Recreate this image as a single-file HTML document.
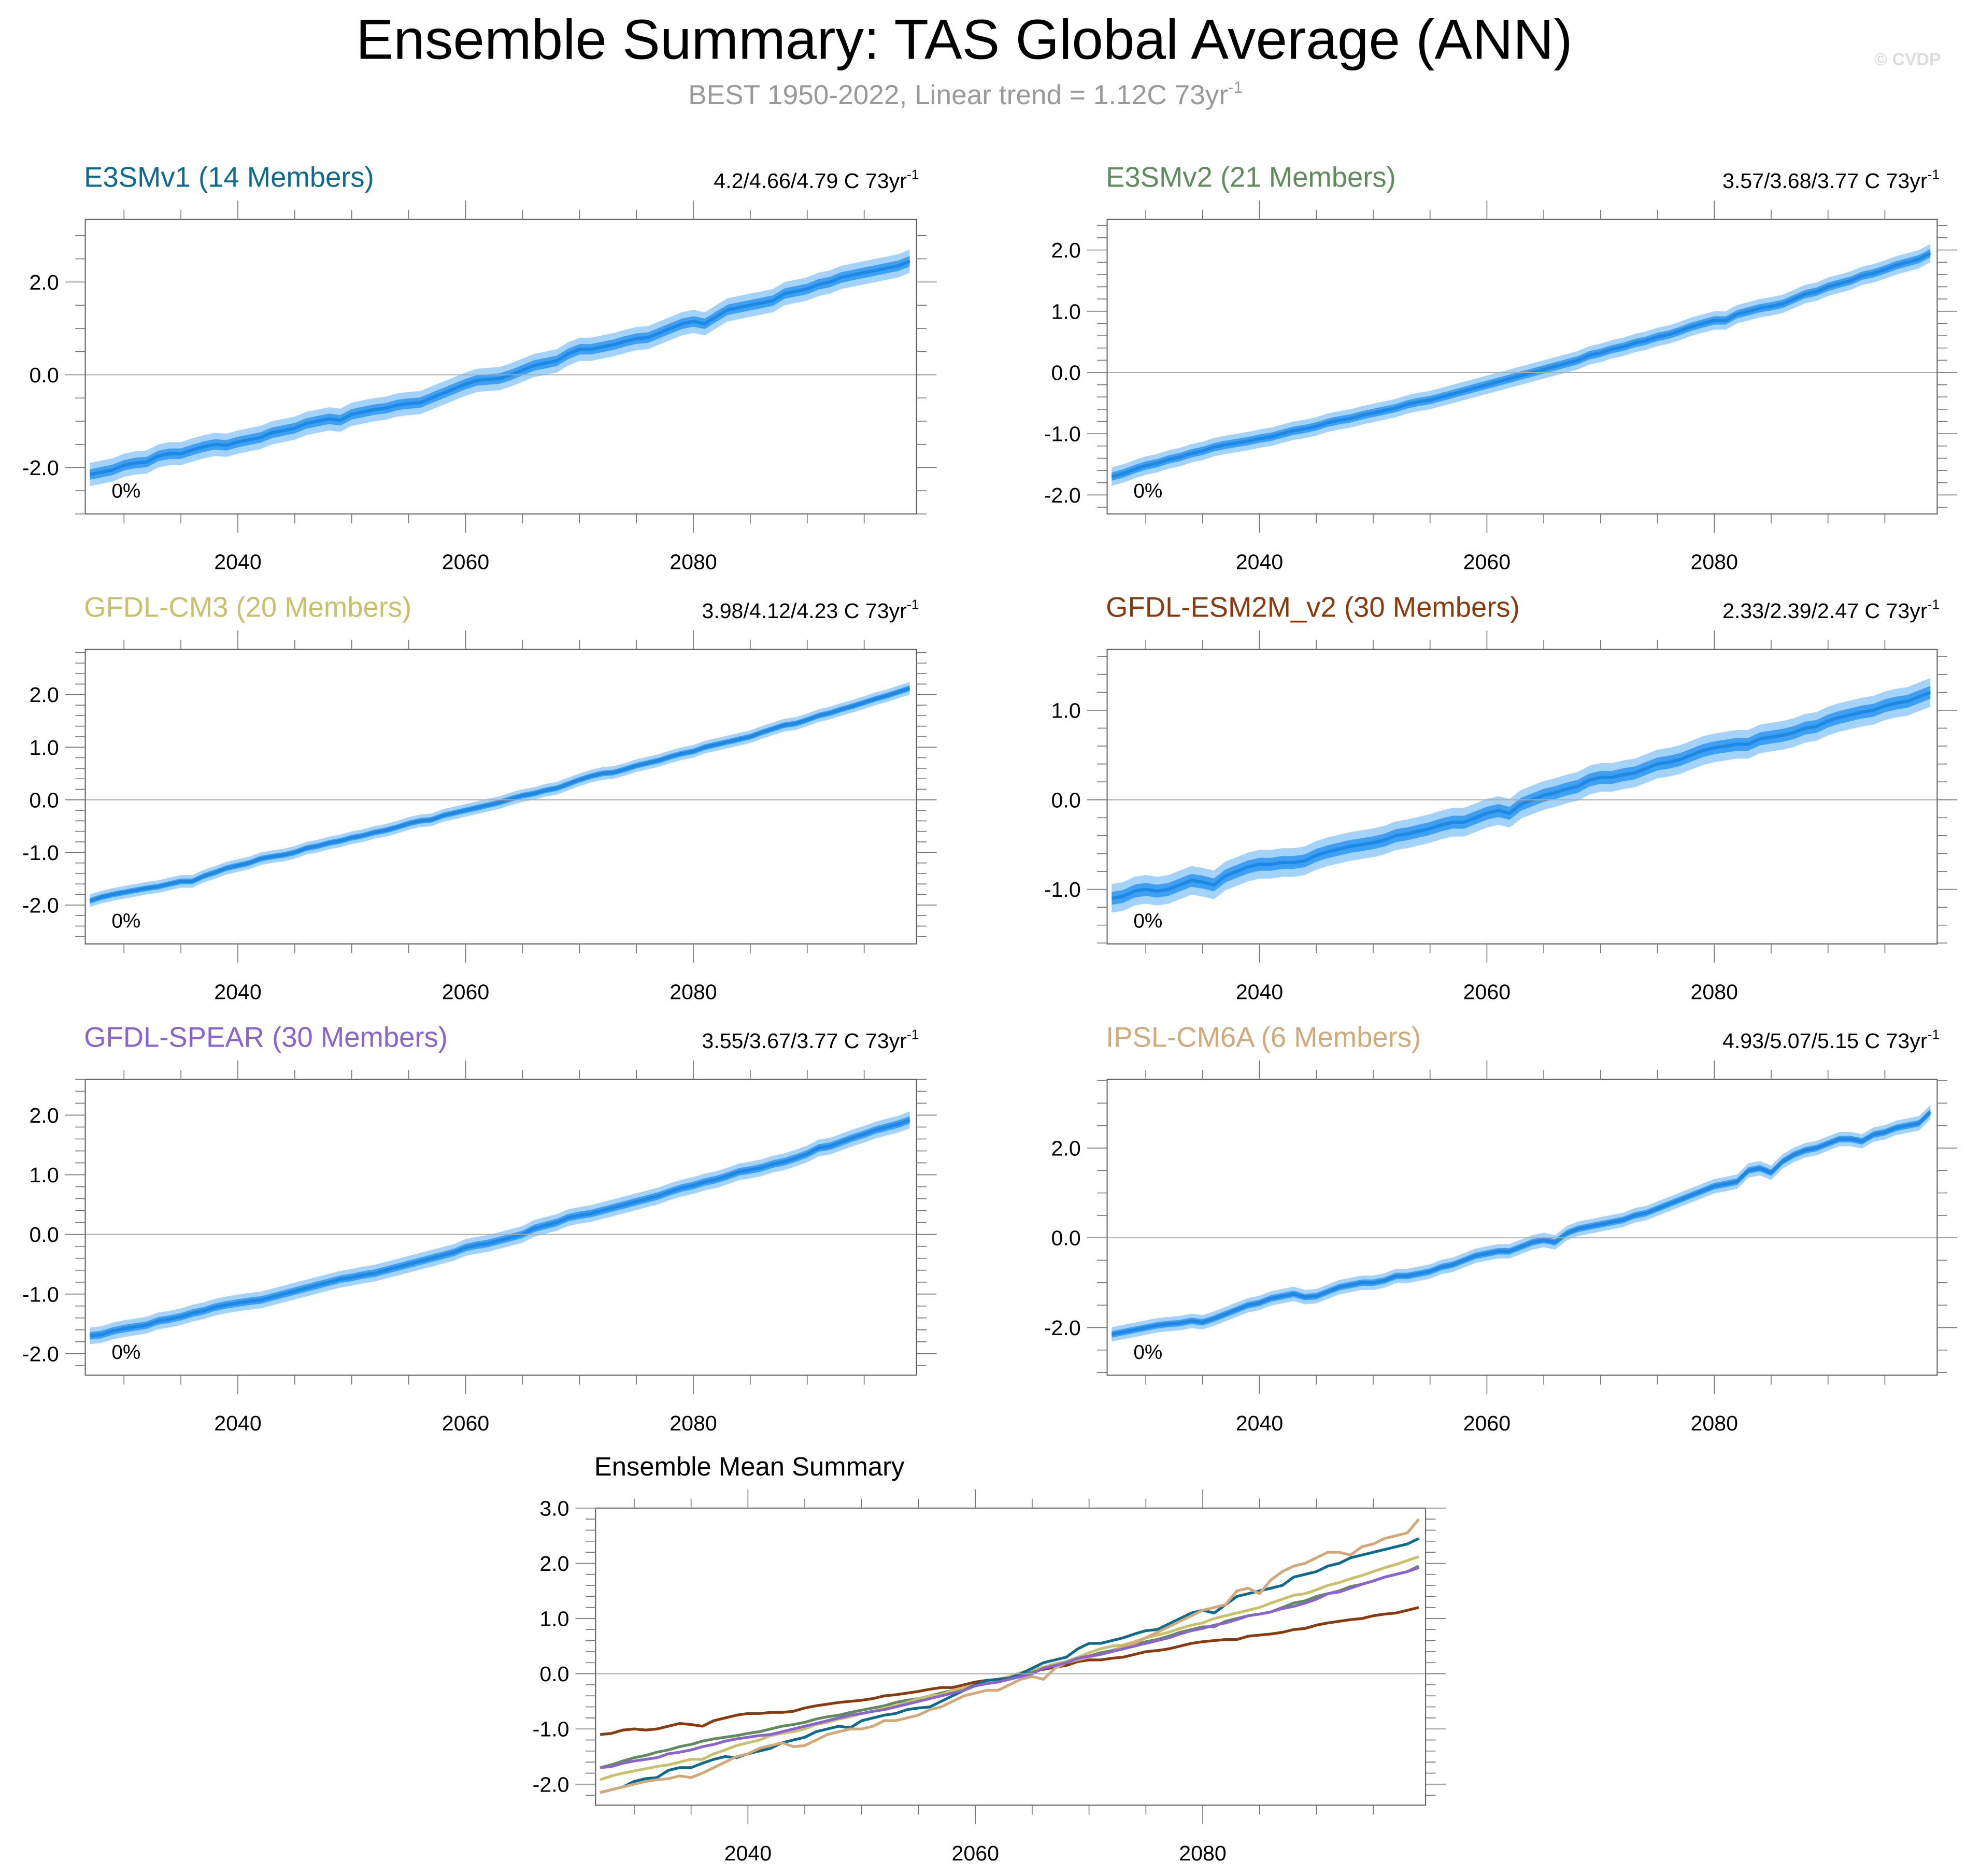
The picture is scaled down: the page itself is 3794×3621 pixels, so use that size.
<!DOCTYPE html>
<html><head><meta charset="utf-8">
<style>
html,body{margin:0;padding:0;background:#fff;}
svg{display:block;font-family:"Liberation Sans",sans-serif;}
</style></head>
<body>
<svg id="fig" width="3794" height="3621" viewBox="0 0 1568 1496.5" xmlns="http://www.w3.org/2000/svg">
<rect width="1568" height="1496.5" fill="#fff"/>
<text x="769" y="47" font-size="45" text-anchor="middle" fill="#000">Ensemble Summary: TAS Global Average (ANN)</text>
<text x="770" y="83" font-size="22" text-anchor="middle" fill="#999">BEST 1950-2022, Linear trend = 1.12C 73yr<tspan dy="-9" font-size="13">-1</tspan></text>
<text x="1548" y="52" font-size="14" font-weight="bold" text-anchor="end" fill="#ddd">© CVDP</text>
<g id="panels"></g>
</svg>
<script>
const NS="http://www.w3.org/2000/svg";
const years0=2027;
const modelNames=["E3SMv1","E3SMv2","GFDL-CM3","GFDL-ESM2M_v2","GFDL-SPEAR","IPSL-CM6A"];
const memberCounts=[14,21,20,30,30,6];
const trendLabels=["4.2/4.66/4.79","3.57/3.68/3.77","3.98/4.12/4.23","2.33/2.39/2.47","3.55/3.67/3.77","4.93/5.07/5.15"];
const modelColors=["#0e6b8f","#5f8b5f","#c9c06a","#8b3a0e","#8a63d2","#d1a97a"];
const spreads=[0.25,0.15,0.12,0.16,0.14,0.16];
const e3smv1=[-2.15,-2.10,-2.05,-1.95,-1.90,-1.88,-1.75,-1.70,-1.70,-1.62,
-1.55,-1.50,-1.52,-1.45,-1.40,-1.35,-1.25,-1.20,-1.15,-1.05,
-1.00,-0.95,-0.98,-0.85,-0.80,-0.75,-0.72,-0.65,-0.62,-0.60,
-0.50,-0.40,-0.30,-0.20,-0.12,-0.10,-0.08,0.00,0.10,0.20,
0.25,0.30,0.45,0.55,0.55,0.60,0.65,0.72,0.78,0.80,
0.90,1.00,1.10,1.15,1.10,1.25,1.40,1.45,1.50,1.55,
1.60,1.75,1.80,1.85,1.95,2.00,2.10,2.15,2.20,2.25,
2.30,2.35,2.45];
const e3smv2=[-1.70,-1.65,-1.58,-1.52,-1.48,-1.42,-1.38,-1.32,-1.28,-1.22,
-1.18,-1.15,-1.12,-1.08,-1.05,-1.00,-0.95,-0.92,-0.88,-0.82,
-0.78,-0.75,-0.70,-0.66,-0.62,-0.58,-0.52,-0.48,-0.45,-0.40,
-0.35,-0.30,-0.25,-0.20,-0.15,-0.10,-0.05,0.00,0.05,0.10,
0.15,0.20,0.28,0.32,0.38,0.42,0.48,0.52,0.58,0.62,
0.68,0.75,0.80,0.85,0.85,0.95,1.00,1.05,1.08,1.12,
1.20,1.28,1.32,1.40,1.45,1.50,1.58,1.62,1.68,1.75,
1.80,1.85,1.95];
const gfdlCm3=[-1.92,-1.85,-1.80,-1.76,-1.72,-1.68,-1.65,-1.60,-1.55,-1.55,
-1.45,-1.38,-1.30,-1.25,-1.20,-1.12,-1.08,-1.05,-1.00,-0.92,
-0.88,-0.82,-0.78,-0.72,-0.68,-0.62,-0.58,-0.52,-0.45,-0.40,
-0.38,-0.30,-0.25,-0.20,-0.15,-0.10,-0.05,0.02,0.08,0.12,
0.18,0.22,0.30,0.38,0.45,0.50,0.52,0.58,0.65,0.70,
0.75,0.82,0.88,0.92,1.00,1.05,1.10,1.15,1.20,1.28,
1.35,1.42,1.45,1.52,1.60,1.65,1.72,1.78,1.85,1.92,
1.98,2.05,2.12];
const gfdlEsm2m=[-1.10,-1.08,-1.02,-1.00,-1.02,-1.00,-0.95,-0.90,-0.92,-0.95,
-0.85,-0.80,-0.75,-0.72,-0.72,-0.70,-0.70,-0.68,-0.62,-0.58,
-0.55,-0.52,-0.50,-0.48,-0.45,-0.40,-0.38,-0.35,-0.32,-0.28,
-0.25,-0.25,-0.20,-0.15,-0.12,-0.15,-0.05,0.00,0.05,0.08,
0.12,0.15,0.22,0.25,0.25,0.28,0.30,0.35,0.40,0.42,
0.45,0.50,0.55,0.58,0.60,0.62,0.62,0.68,0.70,0.72,
0.75,0.80,0.82,0.88,0.92,0.95,0.98,1.00,1.05,1.08,
1.10,1.15,1.20];
const gfdlSpear=[-1.70,-1.68,-1.62,-1.58,-1.55,-1.52,-1.45,-1.42,-1.38,-1.32,
-1.28,-1.22,-1.18,-1.15,-1.12,-1.10,-1.05,-1.00,-0.95,-0.90,
-0.85,-0.80,-0.75,-0.72,-0.68,-0.65,-0.60,-0.55,-0.50,-0.45,
-0.40,-0.35,-0.30,-0.22,-0.18,-0.15,-0.10,-0.05,0.00,0.10,
0.15,0.20,0.28,0.32,0.35,0.40,0.45,0.50,0.55,0.60,
0.65,0.72,0.78,0.82,0.88,0.92,0.98,1.05,1.08,1.12,
1.18,1.22,1.28,1.35,1.45,1.48,1.55,1.62,1.68,1.75,
1.80,1.85,1.92];
const ipslCm6a=[-2.15,-2.10,-2.05,-2.00,-1.95,-1.92,-1.90,-1.85,-1.88,-1.80,
-1.70,-1.60,-1.50,-1.45,-1.35,-1.30,-1.25,-1.32,-1.30,-1.20,
-1.10,-1.05,-1.00,-1.00,-0.95,-0.85,-0.85,-0.80,-0.75,-0.65,
-0.60,-0.50,-0.40,-0.35,-0.30,-0.30,-0.20,-0.10,-0.05,-0.10,
0.10,0.20,0.25,0.30,0.35,0.40,0.50,0.55,0.65,0.75,
0.85,0.95,1.05,1.15,1.20,1.25,1.50,1.55,1.45,1.70,
1.85,1.95,2.00,2.10,2.20,2.20,2.15,2.30,2.35,2.45,
2.50,2.55,2.80];
const series=[e3smv1,e3smv2,gfdlCm3,gfdlEsm2m,gfdlSpear,ipslCm6a];
const xTickLabels=[2040,2060,2080];

const root=document.getElementById('panels');
function mk(tag,attrs,parent){const e=document.createElementNS(NS,tag);for(const k in attrs)e.setAttribute(k,attrs[k]);(parent||root).appendChild(e);return e;}

const layouts=[
 {box:[68,731,175,410],yd:[-3.0,3.35],maj:[-2,0,2],minor:0.5},
 {box:[883,1545,175,410],yd:[-2.31,2.5],maj:[-2,-1,0,1,2],minor:0.2},
 {box:[68,731,518,753],yd:[-2.74,2.86],maj:[-2,-1,0,1,2],minor:0.2},
 {box:[883,1545,518,753],yd:[-1.61,1.68],maj:[-1,0,1],minor:0.2},
 {box:[68,731,861,1097],yd:[-2.36,2.6],maj:[-2,-1,0,1,2],minor:0.2},
 {box:[883,1545,861,1097],yd:[-3.06,3.53],maj:[-2,0,2],minor:0.5}
];
const XD=[2026.6,2099.6];

function axes(g,L){
 const [x0,x1,y0,y1]=L.box;
 const sx=v=>x0+(v-XD[0])/(XD[1]-XD[0])*(x1-x0);
 const sy=v=>y1-(v-L.yd[0])/(L.yd[1]-L.yd[0])*(y1-y0);
 return {sx,sy,x0,x1,y0,y1};
}
function frame(g,L,A,name){
 const {sx,sy,x0,x1,y0,y1}=A;
 let z=mk('line',{x1:x0,x2:x1,y1:sy(0),y2:sy(0),stroke:'#aaa','stroke-width':0.8},g);
 
 
 let r=mk('rect',{x:x0,y:y0,width:x1-x0,height:y1-y0,fill:'none',stroke:'#555','stroke-width':0.8},g);
 
 
 const tk=mk('g',{stroke:'#777','stroke-width':0.7},g);
 
 
 for(let yr=2030;yr<=2095;yr+=5){const x=sx(yr);const len=(yr%20===0)?15:7.5;
  mk('line',{x1:x,x2:x,y1:y1,y2:y1+len},tk);mk('line',{x1:x,x2:x,y1:y0,y2:y0-len},tk);}
 const lo=Math.ceil(L.yd[0]/L.minor-1e-6),hi=Math.floor(L.yd[1]/L.minor+1e-6);
 for(let i=lo;i<=hi;i++){const v=i*L.minor;const y=sy(v);const isMaj=L.maj.some(m=>Math.abs(m-v)<1e-6);const len=isMaj?16:8;
  mk('line',{x1:x0,x2:x0-len,y1:y,y2:y},tk);mk('line',{x1:x1,x2:x1+len,y1:y,y2:y},tk);}
 L.maj.forEach(v=>{const t=mk('text',{x:x0-21,y:sy(v)+6,'font-size':17,'text-anchor':'end',fill:'#000'},g);t.textContent=v.toFixed(1);
  
  });
 xTickLabels.forEach(v=>{const t=mk('text',{x:sx(v),y:y1+44,'font-size':17,'text-anchor':'middle',fill:'#000'},g);t.textContent=v;
  
  });
}

series.forEach((s,m)=>{
 const L=layouts[m];
 const g=mk('g',{});
 
 
 const A=axes(g,L);
 const {sx,sy}=A;
 const sp=spreads[m];
 const band=(k)=>{let up=s.map((v,i)=>sx(years0+i)+','+sy(v+sp*k)),dn=s.map((v,i)=>sx(years0+i)+','+sy(v-sp*k)).reverse();return up.concat(dn).join(' ');};
 const outer=mk('polygon',{points:band(1),fill:'#a3d2fb'},g);
 
 
 const inner=mk('polygon',{points:band(0.45),fill:'#3f9ff2'},g);
 
 
 const line=mk('polyline',{points:s.map((v,i)=>sx(years0+i)+','+sy(v)).join(' '),fill:'none',stroke:'#1e88e5','stroke-width':2.6,'stroke-linejoin':'round'},g);
 
 
 frame(g,L,A,'panel');
 const t=mk('text',{x:A.x0-1,y:A.y0-26,'font-size':22.5,fill:modelColors[m]},g);
 t.textContent=modelNames[m]+' ('+memberCounts[m]+' Members)';
 
 
 const tr=mk('text',{x:A.x1+2,y:A.y0-25,'font-size':17,'text-anchor':'end',fill:'#000'},g);
 tr.innerHTML=trendLabels[m]+' C 73yr<tspan dy="-7" font-size="11">-1</tspan>';
 
 
 const p=mk('text',{x:A.x0+21,y:A.y1-13,'font-size':16,fill:'#000'},g);
 p.textContent='0%';
 
 
});

const LS={box:[475,1137,1203,1440],yd:[-2.38,3.0],maj:[-2,-1,0,1,2,3],minor:0.2};
const gs=mk('g',{});


const AS=axes(gs,LS);
const order=[3,1,2,0,5,4];
order.forEach(m=>{
 const pl=mk('polyline',{points:series[m].map((v,i)=>AS.sx(years0+i)+','+AS.sy(v)).join(' '),fill:'none',stroke:modelColors[m],'stroke-width':2.2,'stroke-linejoin':'round'},gs);
 
 
});
frame(gs,LS,AS,'summary');
const st=mk('text',{x:474,y:1177,'font-size':21,fill:'#000'},gs);
st.textContent='Ensemble Mean Summary';


</script>
</body></html>
